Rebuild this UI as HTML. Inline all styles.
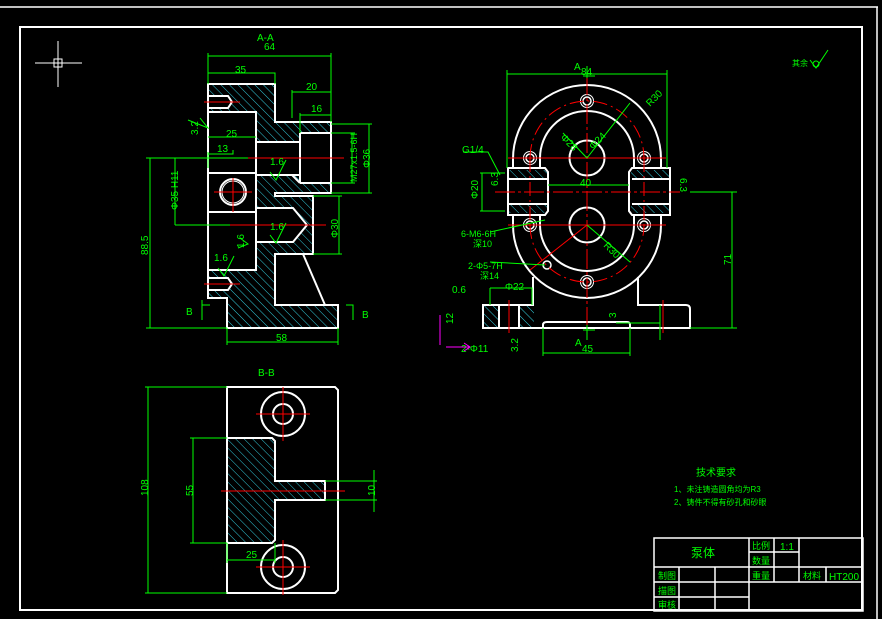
<!DOCTYPE html>
<html><head><meta charset="utf-8"><style>
html,body{margin:0;padding:0;background:#000;}
svg{display:block;}
text{font-family:"Liberation Sans","Noto Sans CJK SC",sans-serif;fill:#0f0;}
</style></head><body>
<svg width="882" height="619" viewBox="0 0 882 619" xmlns="http://www.w3.org/2000/svg">
<defs>
<pattern id="h" width="6" height="6" patternUnits="userSpaceOnUse" patternTransform="rotate(-45)">
<line x1="0" y1="0" x2="0" y2="6" stroke="#3cd" stroke-width="1"/>
</pattern>
</defs>
<rect width="882" height="619" fill="#000"/>
<!-- borders -->
<line x1="0" y1="7" x2="878" y2="7" stroke="#fff" stroke-width="1.5"/>
<line x1="877" y1="7" x2="877" y2="619" stroke="#fff" stroke-width="1.5"/>
<rect x="20" y="27" width="842" height="583" fill="none" stroke="#fff" stroke-width="2"/>
<!-- crosshair -->
<g stroke="#fff" stroke-width="1"><line x1="35" y1="63" x2="82" y2="63"/><line x1="58" y1="41" x2="58" y2="87"/><rect x="54" y="59" width="8" height="8" fill="none"/></g>

<!-- ===== A-A view ===== -->
<g>
<path d="M208,84 H275 V122 H331 V193 H275 V196 H313 V254 H275 V305 H338 V328 H227 V298 H208 Z" fill="url(#h)"/>
<g fill="#000">
<rect x="208" y="112" width="48" height="158"/>
<rect x="256" y="142" width="44" height="33"/>
<rect x="300" y="133" width="31" height="50"/>
<path d="M256,208 H293 L307,225 L293,242 H256 Z"/>
<path d="M275,254 H303 L325,305 H275 Z"/>
<rect x="208" y="96" width="22" height="12"/>
<rect x="208" y="278" width="22" height="12"/>
</g>
<g fill="none" stroke="#fff" stroke-width="2">
<path d="M208,84 H275 V122 H331 V193 H275 V196 H313 V254 H275 V305 H338 V328 H227 V298 H208 Z"/>
<path d="M208,112 H256 V270 H208"/>
<path d="M256,142 H300 V175 H256"/>
<path d="M300,133 H331 M300,183 H331 M300,133 V183 M292,175 L300,183"/>
<path d="M256,208 H293 L307,225 L293,242 H256"/>
<path d="M303,254 L325,305"/>
<path d="M208,173 H256 M208,212 H256"/>
<path d="M208,96 H228 L232,102 L228,108 H208"/>
<path d="M208,278 H228 L232,284 L228,290 H208"/>
</g>
<circle cx="233" cy="192" r="13" fill="none" stroke="#fff" stroke-width="2"/>
<circle cx="233" cy="192" r="11" fill="none" stroke="#fff" stroke-width="1"/>
<g stroke="#f00" stroke-width="1">
<line x1="204" y1="102" x2="240" y2="102"/><line x1="204" y1="284" x2="240" y2="284"/>
<line x1="248" y1="158" x2="344" y2="158"/><line x1="214" y1="192" x2="252" y2="192"/><line x1="233" y1="178" x2="233" y2="212"/>
<line x1="230" y1="225" x2="326" y2="225"/>
</g>
<g stroke="#0f0" stroke-width="1" fill="none">
<path d="M208,53 V84 M331,53 V122 M208,56 H331"/>
<path d="M208,73 H275 V84"/>
<path d="M292,90 V118 M292,92 H331"/>
<path d="M300,113 V133 M300,115 H331"/>
<path d="M208,137 H256"/><path d="M208,152 V168 M208,154 H233 V150"/>
<path d="M146,158 H248 M146,328 H227 M150,158 V328"/>
<path d="M175,158 V225 M175,225 H230"/>
<path d="M331,124 H372 M331,193 H372 M369,124 V193"/>
<path d="M331,133 H355 M331,183 H355 M352,133 V183"/>
<path d="M313,196 H342 M313,254 H342 M339,196 V254"/>
<path d="M227,328 V345 M338,328 V345 M227,342 H338"/>
<path d="M188,120 L208,128 L200,118"/>
<path d="M270,172 L276,180 L286,160"/><path d="M270,235 L276,243 L286,223"/>
<path d="M238,248 L248,244 L240,238"/><path d="M218,268 L224,276 L234,256"/>
<path d="M202,300 V305 M202,305 H210 M202,305 V320"/>
<path d="M346,305 H353 V320"/>
</g>
<g font-size="10">
<text x="257" y="41">A-A</text><text x="264" y="50">64</text>
<text x="235" y="73">35</text><text x="306" y="90">20</text><text x="311" y="112">16</text>
<text x="226" y="137">25</text><text x="217" y="152">13</text>
<text x="270" y="165">1.6</text><text x="270" y="230">1.6</text><text x="214" y="261">1.6</text>
<text x="186" y="315">B</text><text x="362" y="318">B</text>
<text x="276" y="341">58</text>
<text transform="translate(198,135) rotate(-90)">3.2</text>
<text transform="translate(244,248) rotate(-90)">1.6</text>
<text transform="translate(148,255) rotate(-90)">88.5</text>
<text transform="translate(178,210) rotate(-90)">Φ35 H11</text>
<text transform="translate(357,182) rotate(-90)" font-size="9">M27x1.5-6H</text>
<text transform="translate(370,168) rotate(-90)">Φ36</text>
<text transform="translate(338,238) rotate(-90)">Φ30</text>
</g>
</g>

<!-- ===== right view ===== -->
<g>
<g fill="none" stroke="#fff" stroke-width="2">
<path d="M513,159 A74,74 0 0 1 661,159 V225 A74,73 0 0 1 513,225 Z"/>
<path d="M540,158 A47,47 0 0 1 634,158 V225 A47,46 0 0 1 540,225 Z"/>
<circle cx="587" cy="158" r="17.5"/><circle cx="587" cy="225" r="17.5"/>
<path d="M533,277 V305 H483 V328 H690 V309 Q690,305 686,305 H638 V277"/>
<path d="M543,328 V325 Q543,322 547,322 H627 Q630,322 630,325 V328"/>
</g>
<rect x="505" y="168" width="43" height="47" fill="#000"/>
<rect x="629" y="168" width="44" height="47" fill="#000"/>
<rect x="507" y="170" width="40" height="9" fill="url(#h)"/><rect x="507" y="204" width="40" height="9" fill="url(#h)"/>
<rect x="631" y="170" width="40" height="9" fill="url(#h)"/><rect x="631" y="204" width="40" height="9" fill="url(#h)"/>
<rect x="484" y="306" width="15" height="21" fill="url(#h)"/><rect x="519" y="306" width="15" height="21" fill="url(#h)"/>
<g fill="none" stroke="#fff" stroke-width="2">
<path d="M508,168 H545 L548,172 V211 L545,215 H508 Z"/>
<path d="M508,179 H547 M508,204 H547"/>
<path d="M670,168 H632 L629,172 V211 L632,215 H670 Z"/>
<path d="M632,179 H670 M632,204 H670"/>
<path d="M483,305 H534 M499,305 V328 M519,305 V328"/>
</g>
<g fill="none" stroke="#fff">
<circle cx="587" cy="101" r="4" stroke-width="1.5"/><circle cx="587" cy="101" r="6.5"/>
<circle cx="530" cy="158" r="4" stroke-width="1.5"/><circle cx="530" cy="158" r="6.5"/>
<circle cx="644" cy="158" r="4" stroke-width="1.5"/><circle cx="644" cy="158" r="6.5"/>
<circle cx="530" cy="225" r="4" stroke-width="1.5"/><circle cx="530" cy="225" r="6.5"/>
<circle cx="644" cy="225" r="4" stroke-width="1.5"/><circle cx="644" cy="225" r="6.5"/>
<circle cx="587" cy="282" r="4" stroke-width="1.5"/><circle cx="587" cy="282" r="6.5"/>
<circle cx="547" cy="265" r="4" stroke-width="1.5"/>
</g>
<g fill="none" stroke="#f00" stroke-width="1">
<path d="M530,158 A57,57 0 0 1 644,158 M530,225 A57,57 0 0 0 644,225" stroke-dasharray="14,4,2,4"/>
<path d="M530,158 V225 M644,158 V225" stroke-dasharray="14,4,2,4"/>
<line x1="587" y1="75" x2="587" y2="335" stroke-dasharray="20,3,3,3"/>
<line x1="495" y1="192" x2="680" y2="192" stroke-dasharray="20,3,3,3"/>
<line x1="508" y1="158" x2="666" y2="158"/><line x1="508" y1="225" x2="666" y2="225"/>
<line x1="510" y1="158" x2="510" y2="158"/>
<line x1="509" y1="300" x2="509" y2="333"/><line x1="663" y1="300" x2="663" y2="333"/>
<line x1="587" y1="225" x2="530" y2="270"/>
</g>
<g stroke="#0f0" stroke-width="1" fill="none">
<path d="M507,70 V168 M667,70 V168 M507,74 H667"/>
<path d="M690,192 H737 M690,328 H737 M732,192 V328"/>
<path d="M548,185 H629"/>
<path d="M480,173 H505 M480,211 H505 M482,173 V211"/>
<path d="M463,152 H488 L500,175"/>
<path d="M587,158 L630,103"/><path d="M587,158 L563,133"/>
<path d="M587,225 L630,262"/>
<path d="M490,232 L545,220"/><path d="M490,262 L545,265"/>
<path d="M490,288 H532 V305 M490,288 V305"/>
<path d="M543,328 V356 M630,328 V356 M543,353 H630"/>
<path d="M660,305 V340"/>
<path d="M660,323 H616"/>
</g>
<g stroke="#0f0" fill="none"><path d="M583,76 H595 M587,66 V78"/><path d="M583,330 H595 M587,325 V340"/></g>
<g font-size="10">
<text x="574" y="70">A</text><text x="581" y="75">84</text>
<text x="575" y="346">A</text><text x="582" y="352">45</text>
<text x="462" y="153">G1/4</text>
<text x="580" y="186">40</text>
<text x="650" y="107" transform="rotate(-45 650 107)">R30</text>
<text x="560" y="138" transform="rotate(45 560 138)">Φ28</text>
<text x="593" y="150" transform="rotate(-45 593 150)">Φ24</text>
<text x="603" y="246" transform="rotate(45 603 246)">R30</text>
<text x="461" y="237" font-size="9">6-M6-6H</text><text x="473" y="247" font-size="9">深10</text>
<text x="468" y="269" font-size="9">2-Φ5-7H</text><text x="480" y="279" font-size="9">深14</text>
<text x="505" y="290">Φ22</text>
<text x="452" y="293">0.6</text>
<text x="461" y="352">2-Φ11</text>
<text transform="translate(478,199) rotate(-90)">Φ20</text>
<text transform="translate(498,186) rotate(-90)">6.3</text>
<text transform="translate(680,178) rotate(90)">6.3</text>
<text transform="translate(731,265) rotate(-90)">71</text>
<text transform="translate(616,318) rotate(-90)">3</text>
<text transform="translate(518,352) rotate(-90)">3.2</text>
<text transform="translate(453,324) rotate(-90)">12</text>
</g>
<g stroke="#f0f" fill="none"><path d="M446,347 H470 M464,343 L470,347 L464,351"/><path d="M440,315 V345"/></g>
</g>

<!-- ===== B-B view ===== -->
<g>
<path d="M227,438 H275 V481 H325 V500 H275 V543 H227 Z" fill="url(#h)"/>
<g fill="none" stroke="#fff" stroke-width="2">
<path d="M227,387 H335 L338,390 V590 L335,593 H227 Z"/>
<path d="M227,438 H272 L275,441 V481 H325 V500 H275 V540 L272,543 H227"/>
<circle cx="283" cy="414" r="22"/><circle cx="283" cy="414" r="10"/>
<circle cx="283" cy="567" r="22"/><circle cx="283" cy="567" r="10"/>
</g>
<g stroke="#f00" stroke-width="1">
<line x1="256" y1="414" x2="310" y2="414"/><line x1="283" y1="387" x2="283" y2="441"/>
<line x1="256" y1="567" x2="310" y2="567"/><line x1="283" y1="540" x2="283" y2="595"/>
<line x1="221" y1="491" x2="345" y2="491"/>
</g>
<g stroke="#0f0" stroke-width="1" fill="none">
<path d="M145,387 H227 M145,593 H227 M148,387 V593"/>
<path d="M190,438 H227 M190,543 H227 M193,438 V543"/>
<path d="M227,543 V563 M275,543 V563 M227,560 H275"/>
<path d="M325,481 H377 M325,500 H377 M374,470 V512"/>
</g>
<g font-size="10">
<text x="258" y="376">B-B</text>
<text x="246" y="558">25</text>
<text transform="translate(148,496) rotate(-90)">108</text>
<text transform="translate(193,496) rotate(-90)">55</text>
<text transform="translate(375,496) rotate(-90)">10</text>
</g>
</g>

<!-- roughness top-right -->
<g stroke="#0f0" fill="none"><path d="M810,60 L816,68 L828,50"/><circle cx="816" cy="64" r="3"/></g>
<text x="792" y="66" font-size="8">其余</text>

<!-- tech requirements -->
<text x="696" y="476" font-size="10">技术要求</text>
<text x="674" y="492" font-size="8">1、未注铸造圆角均为R3</text>
<text x="674" y="505" font-size="8">2、铸件不得有砂孔和砂眼</text>

<!-- title block -->
<g fill="none" stroke="#fff" stroke-width="1.5">
<rect x="654" y="538" width="209" height="73"/>
<line x1="654" y1="567" x2="863" y2="567"/><line x1="654" y1="582" x2="863" y2="582"/>
<line x1="654" y1="597" x2="749" y2="597"/><line x1="749" y1="552" x2="799" y2="552"/>
<line x1="749" y1="538" x2="749" y2="611"/><line x1="774" y1="538" x2="774" y2="582"/>
<line x1="799" y1="538" x2="799" y2="582"/><line x1="826" y1="567" x2="826" y2="582"/>
<line x1="679" y1="567" x2="679" y2="611"/><line x1="715" y1="567" x2="715" y2="611"/>
</g>
<g font-size="9">
<text x="691" y="557" font-size="12">泵体</text>
<text x="752" y="549">比例</text><text x="780" y="550" font-size="10">1:1</text>
<text x="752" y="564">数量</text>
<text x="658" y="579">制图</text><text x="752" y="579">重量</text><text x="803" y="579">材料</text>
<text x="829" y="580" font-size="10">HT200</text>
<text x="658" y="594">描图</text><text x="658" y="608">审核</text>
</g>
</svg>
</body></html>
